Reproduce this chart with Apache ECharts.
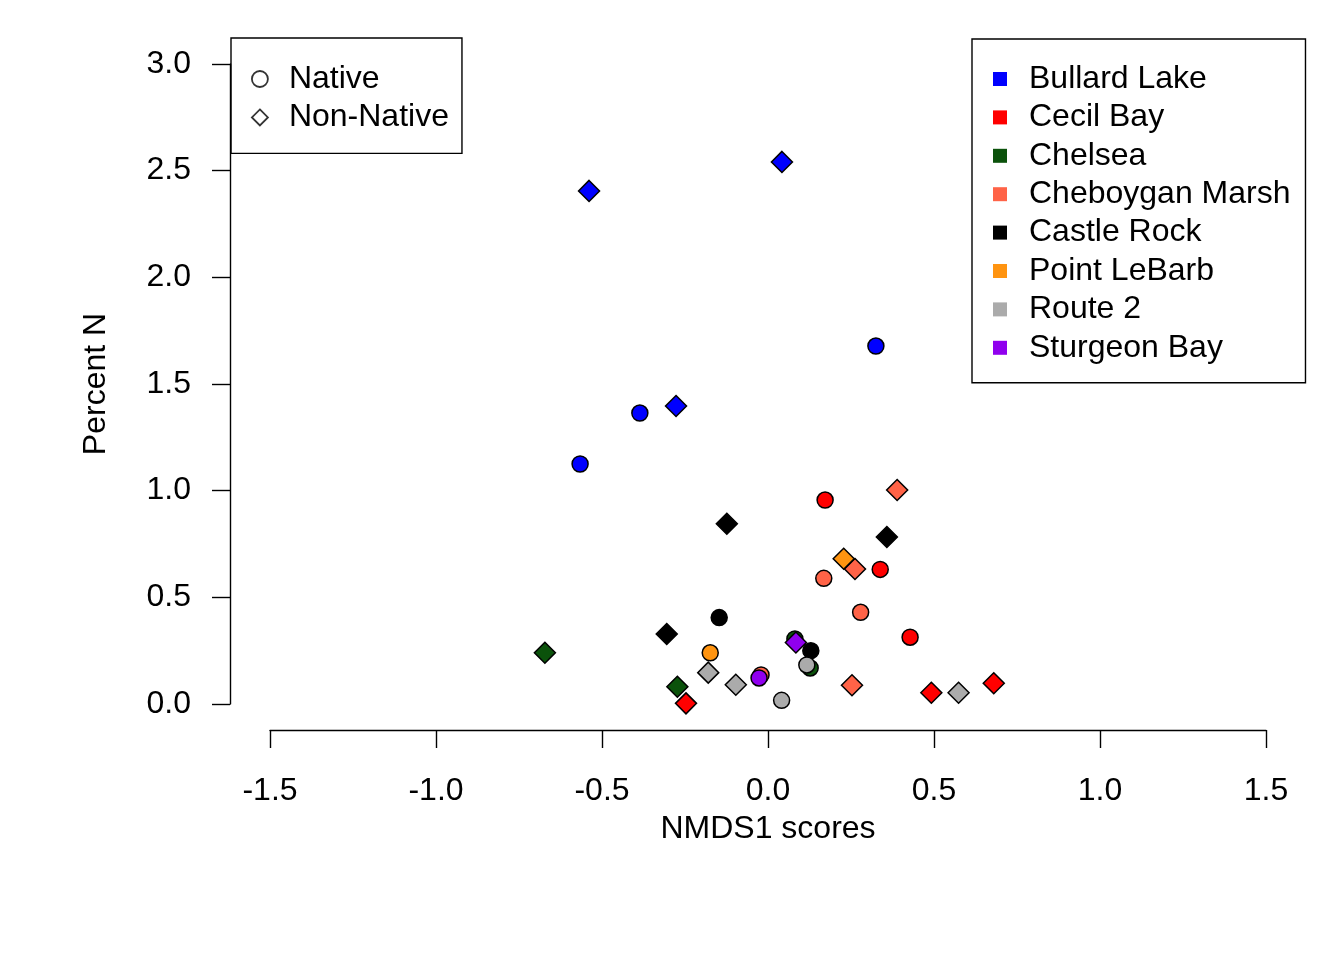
<!DOCTYPE html>
<html>
<head>
<meta charset="utf-8">
<script src="https://cdn.jsdelivr.net/npm/echarts@6/dist/echarts.min.js"></script>
<style>html,body{margin:0;padding:0;background:#fff;}#chart{width:1344px;height:960px;}</style>
</head>
<body>
<div id="chart"></div>
<script>
// ---- data ----
const sites = ['Bullard Lake','Cecil Bay','Chelsea','Cheboygan Marsh','Castle Rock','Point LeBarb','Route 2','Sturgeon Bay'];
const shapeNames = ['Native','Non-Native'];
const xTicks = ['-1.5','-1.0','-0.5','0.0','0.5','1.0','1.5'];
const yTicks = ['0.0','0.5','1.0','1.5','2.0','2.5','3.0'];

// Native (circles): [NMDS1, Percent N]
const nativeBullard   = [[-0.566,1.125],[-0.386,1.364],[0.325,1.678]];
const nativeCecil     = [[0.172,0.956],[0.338,0.631],[0.428,0.313]];
const nativeChelsea   = [[0.081,0.305],[0.127,0.169]];
const nativeCheboygan = [[0.168,0.589],[0.279,0.430],[-0.021,0.136]];
const nativeCastle    = [[-0.147,0.405],[0.129,0.250]];
const nativeLeBarb    = [[-0.174,0.240]];
const nativeRoute2    = [[0.041,0.017],[0.117,0.183]];
const nativeSturgeon  = [[-0.027,0.122]];

// Non-native (diamonds)
const nonBullard   = [[-0.539,2.405],[0.042,2.541],[-0.277,1.397]];
const nonCecil     = [[-0.247,0.003],[0.492,0.053],[0.680,0.097]];
const nonChelsea   = [[-0.672,0.240],[-0.273,0.081]];
const nonCheboygan = [[0.389,1.003],[0.262,0.633],[0.253,0.088]];
const nonCastle    = [[-0.124,0.845],[0.358,0.783],[-0.305,0.328]];
const nonLeBarb    = [[0.228,0.681]];
const nonRoute2    = [[-0.180,0.147],[-0.097,0.090],[0.574,0.053]];
const nonSturgeon  = [[0.084,0.288]];

const nativeData = [nativeBullard,nativeCecil,nativeChelsea,nativeCheboygan,nativeCastle,nativeLeBarb,nativeRoute2,nativeSturgeon];
const nonData = [nonBullard,nonCecil,nonChelsea,nonCheboygan,nonCastle,nonLeBarb,nonRoute2,nonSturgeon];

// ---- styles ----
const siteColors = ['#0000FF','#FF0000','#0B520B','#FF6347','#000000','#FF9410','#ABABAB','#9000EE'];
const FONT = 'Liberation Sans, Arial, Helvetica, sans-serif';
const FS = 32;

const series = [];
sites.forEach((s, i) => {
  series.push({
    name: s, type: 'scatter', symbol: 'circle', symbolSize: 16,
    data: nativeData[i],
    itemStyle: { color: siteColors[i], borderColor: '#000', borderWidth: 1.5, opacity: 1 },
    emphasis: { disabled: true }
  });
  series.push({
    name: s, type: 'scatter', symbol: 'diamond', symbolSize: 21,
    data: nonData[i],
    itemStyle: { color: siteColors[i], borderColor: '#000', borderWidth: 1.5, opacity: 1 },
    emphasis: { disabled: true }
  });
});
series.push({ name: 'Native', type: 'scatter', symbol: 'circle', data: [],
  itemStyle: { color: '#fff', borderColor: '#000', borderWidth: 1.8 } });
series.push({ name: 'Non-Native', type: 'scatter', symbol: 'diamond', data: [],
  itemStyle: { color: '#fff', borderColor: '#000', borderWidth: 1.8 } });

const chart = echarts.init(document.getElementById('chart'), null, { renderer: 'canvas' });
chart.setOption({
  animation: false,
  backgroundColor: '#fff',
  textStyle: { fontFamily: FONT },
  grid: { left: 270, right: 78, top: 64, bottom: 256, containLabel: false },
  xAxis: {
    type: 'value', min: -1.5, max: 1.5, interval: 0.5, offset: 26,
    name: 'NMDS1 scores', nameLocation: 'middle', nameGap: 83,
    nameTextStyle: { fontSize: FS, color: '#000', fontFamily: FONT },
    axisLine: { show: true, onZero: false, lineStyle: { color: '#000', width: 1.4 } },
    axisTick: { show: true, length: 18, lineStyle: { color: '#000', width: 1.4 } },
    axisLabel: { fontSize: FS, color: '#000', margin: 45, fontFamily: FONT,
      formatter: v => xTicks[Math.round((v + 1.5) / 0.5)] },
    splitLine: { show: false }
  },
  yAxis: {
    type: 'value', min: 0, max: 3, interval: 0.5, offset: 40,
    name: 'Percent N', nameLocation: 'middle', nameGap: 118, nameRotate: 90,
    nameTextStyle: { fontSize: FS, color: '#000', fontFamily: FONT },
    axisLine: { show: true, onZero: false, lineStyle: { color: '#000', width: 1.4 } },
    axisTick: { show: true, length: 18, lineStyle: { color: '#000', width: 1.4 } },
    axisLabel: { fontSize: FS, color: '#000', margin: 39, fontFamily: FONT, padding: [4, 0, 0, 0],
      formatter: v => yTicks[Math.round(v / 0.5)] },
    splitLine: { show: false }
  },
  legend: [
    {
      orient: 'vertical', left: 231, top: 38, selectedMode: false,
      data: [
        { name: shapeNames[0], icon: 'circle', itemStyle: { color: '#fff', borderColor: '#000', borderWidth: 1.8 } },
        { name: shapeNames[1], icon: 'diamond', itemStyle: { color: '#fff', borderColor: '#000', borderWidth: 1.8 } }
      ],
      itemWidth: 16, itemHeight: 16, itemGap: 6.4,
      padding: [25, 13, 20, 20],
      borderColor: '#000', borderWidth: 1.4,
      textStyle: { fontSize: FS, color: '#000', fontFamily: FONT, padding: [0, 0, 0, 16] }
    },
    {
      orient: 'vertical', left: 972, top: 39, selectedMode: false,
      data: sites.map(s => ({ name: s, icon: 'rect', itemStyle: { borderWidth: 0 } })),
      itemWidth: 14, itemHeight: 14, itemGap: 6.4,
      padding: [24, 15, 19, 21],
      borderColor: '#000', borderWidth: 1.4,
      textStyle: { fontSize: FS, color: '#000', fontFamily: FONT, padding: [0, 0, 0, 17] }
    }
  ],
  series: series
});
</script>
</body>
</html>
